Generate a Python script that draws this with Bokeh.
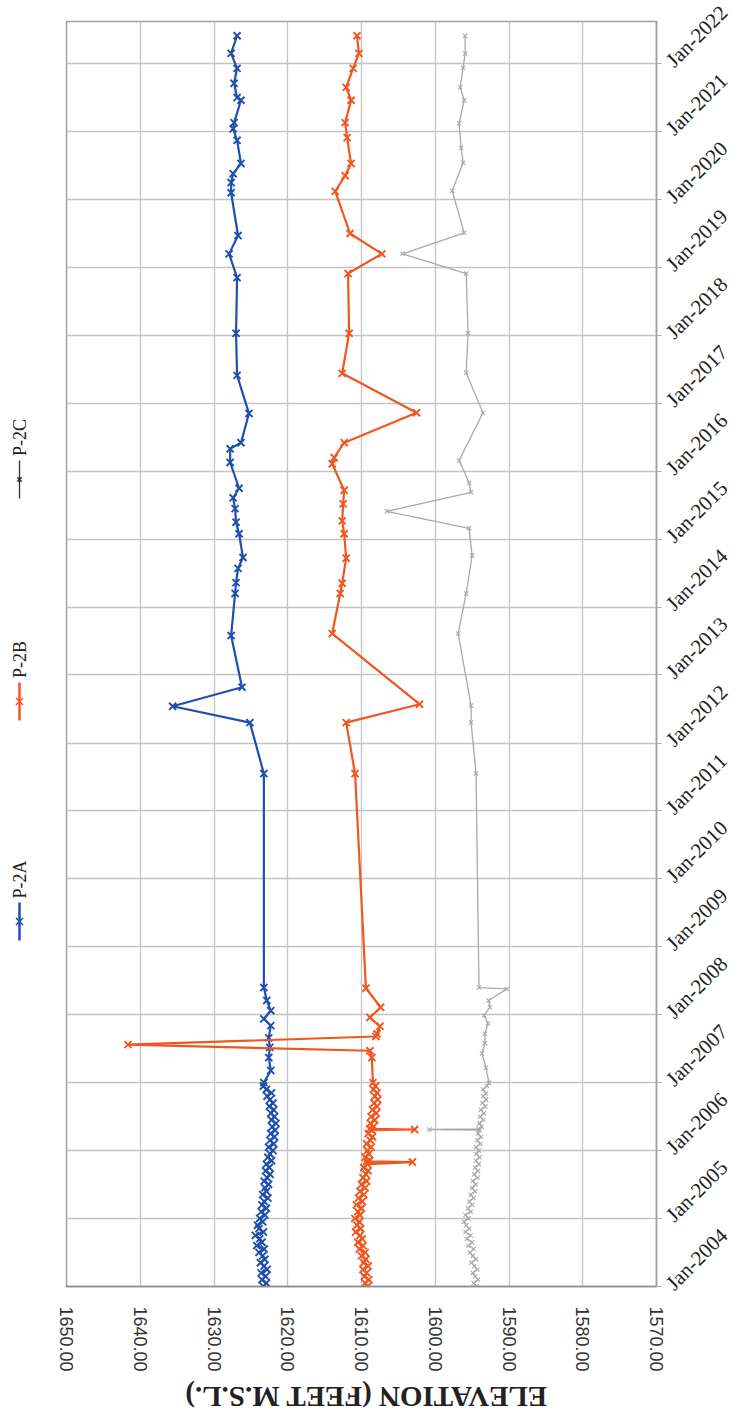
import math
from datetime import datetime
from bokeh.plotting import figure
from bokeh.models import Range1d, FixedTicker, DatetimeTickFormatter, NumeralTickFormatter
from bokeh.layouts import row, column
from bokeh.embed import file_html
from bokeh.resources import INLINE
from bokeh.core.properties import value

# ---------------- data (decimal years, elevation ft) ----------------
series_names = ["P-2A", "P-2B", "P-2C"]
series_colors = ["#1f4fae", "#f0561e", "#a9a9a9"]

p2a_years = [
    2004.00, 2004.05, 2004.10, 2004.15, 2004.20, 2004.25, 2004.30, 2004.35, 2004.40, 2004.45,
    2004.50, 2004.55, 2004.60, 2004.65, 2004.70, 2004.75, 2004.80, 2004.85, 2004.90, 2004.95,
    2005.00, 2005.05, 2005.10, 2005.15, 2005.20, 2005.25, 2005.30, 2005.35, 2005.40, 2005.45,
    2005.50, 2005.55, 2005.60, 2005.65, 2005.70, 2005.75, 2005.80, 2005.85, 2005.90, 2005.95,
    2006.00, 2006.05, 2006.10, 2006.15, 2006.20, 2006.25, 2006.30, 2006.35, 2006.40, 2006.45,
    2006.50, 2006.55, 2006.60, 2006.65, 2006.70, 2006.75, 2006.80, 2006.85, 2006.90, 2006.95,
    2007.00, 2007.18, 2007.37, 2007.52, 2007.66, 2007.84, 2007.94, 2008.06, 2008.21, 2008.40,
    2011.55, 2012.30, 2012.54, 2012.82, 2013.58, 2014.20, 2014.36, 2014.57, 2014.73, 2015.08,
    2015.25, 2015.45, 2015.61, 2015.75, 2016.13, 2016.33, 2016.42, 2016.85, 2017.41, 2018.03,
    2018.85, 2019.20, 2019.47, 2020.10, 2020.25, 2020.38, 2020.53, 2020.87, 2021.04, 2021.13,
    2021.46, 2021.50, 2021.71, 2021.93, 2022.15, 2022.41,
]
p2a_elev = [
    1623.3, 1622.9, 1623.5, 1623.0, 1623.6, 1622.8, 1623.2, 1623.7, 1623.1, 1623.4,
    1623.9, 1623.2, 1624.2, 1623.5, 1623.8, 1624.4, 1623.3, 1623.9, 1624.1, 1623.4,
    1623.8, 1623.1, 1623.6, 1622.9, 1623.5, 1623.2, 1622.7, 1623.4, 1622.9, 1623.1,
    1622.6, 1623.2, 1622.8, 1622.4, 1623.0, 1622.5, 1622.9, 1622.2, 1622.7, 1622.4,
    1622.0, 1622.6, 1621.9, 1622.4, 1621.8, 1622.3, 1621.7, 1622.1, 1621.6, 1622.2,
    1621.8, 1622.3, 1621.9, 1622.5, 1622.0, 1622.4, 1622.8, 1622.2, 1622.9, 1623.3,
    1623.24, 1622.30, 1622.57, 1622.44, 1622.57, 1622.30, 1623.24, 1622.30, 1622.84, 1623.24,
    1623.24, 1625.13, 1635.61, 1626.20, 1627.68, 1627.14, 1627.01, 1626.74, 1626.07, 1626.60,
    1627.01, 1627.14, 1627.41, 1626.60, 1627.81, 1627.81, 1626.34, 1625.26, 1626.87, 1627.01,
    1626.87, 1627.95, 1626.74, 1627.68, 1627.68, 1627.41, 1626.34, 1626.87, 1627.41, 1627.28,
    1626.34, 1626.87, 1627.28, 1626.87, 1627.68, 1626.87,
]

p2b_years = [
    2004.00, 2004.05, 2004.10, 2004.15, 2004.20, 2004.25, 2004.30, 2004.35, 2004.40, 2004.45,
    2004.50, 2004.55, 2004.60, 2004.65, 2004.70, 2004.75, 2004.80, 2004.85, 2004.90, 2004.95,
    2005.00, 2005.05, 2005.10, 2005.15, 2005.20, 2005.25, 2005.30, 2005.35, 2005.40, 2005.45,
    2005.50, 2005.55, 2005.60, 2005.65, 2005.70, 2005.75, 2005.80, 2005.83, 2005.84, 2005.85,
    2005.90, 2005.95, 2006.00, 2006.05, 2006.10, 2006.15, 2006.20, 2006.25, 2006.30, 2006.31,
    2006.32, 2006.35, 2006.40, 2006.45, 2006.50, 2006.55, 2006.60, 2006.65, 2006.70, 2006.75,
    2006.80, 2006.85, 2006.90, 2006.95,
    2007.00, 2007.37, 2007.47, 2007.56, 2007.68, 2007.72, 2007.83, 2007.96, 2008.11, 2008.39,
    2011.55, 2012.30, 2012.57, 2013.61, 2014.20, 2014.35, 2014.72, 2015.08, 2015.27, 2015.52,
    2015.72, 2016.11, 2016.20, 2016.42, 2016.86, 2017.44, 2018.03, 2018.91, 2019.20, 2019.50,
    2020.12, 2020.35, 2020.53, 2020.91, 2021.13, 2021.46, 2021.65, 2021.93, 2022.15, 2022.41,
]
p2b_elev = [
    1609.2, 1609.5, 1609.0, 1609.6, 1609.3, 1609.8, 1609.1, 1609.7, 1609.4, 1610.0,
    1609.5, 1610.3, 1609.8, 1610.5, 1609.9, 1610.2, 1610.8, 1610.1, 1610.6, 1610.3,
    1610.9, 1610.2, 1610.5, 1610.0, 1610.7, 1609.9, 1610.4, 1609.7, 1610.2, 1609.5,
    1610.0, 1609.3, 1609.8, 1609.4, 1609.1, 1609.7, 1609.2, 1603.1, 1609.3, 1608.9,
    1609.5, 1609.0, 1609.2, 1608.7, 1609.3, 1608.8, 1608.5, 1609.1, 1608.6, 1602.8,
    1608.9, 1608.4, 1608.8, 1608.2, 1608.7, 1608.0, 1608.5, 1607.9, 1608.3, 1607.8,
    1608.2, 1607.9, 1608.4, 1608.1,
    1608.45, 1608.60, 1608.86, 1641.66, 1608.05, 1607.90, 1607.50, 1608.86, 1607.40, 1609.40,
    1610.87, 1612.08, 1602.13, 1613.97, 1612.89, 1612.62, 1612.08, 1612.35, 1612.62, 1612.49,
    1612.35, 1613.97, 1613.70, 1612.35, 1602.54, 1612.62, 1611.68, 1611.82, 1607.24, 1611.55,
    1613.56, 1612.22, 1611.41, 1611.95, 1612.22, 1611.41, 1612.08, 1611.14, 1610.34, 1610.61,
]

p2c_years = [
    2004.00, 2004.05, 2004.10, 2004.15, 2004.20, 2004.25, 2004.30, 2004.35, 2004.40, 2004.45,
    2004.50, 2004.55, 2004.60, 2004.65, 2004.70, 2004.75, 2004.80, 2004.85, 2004.90, 2004.95,
    2005.00, 2005.05, 2005.10, 2005.15, 2005.20, 2005.25, 2005.30, 2005.35, 2005.40, 2005.45,
    2005.50, 2005.55, 2005.60, 2005.65, 2005.70, 2005.75, 2005.80, 2005.85, 2005.90, 2005.95,
    2006.00, 2006.05, 2006.10, 2006.15, 2006.20, 2006.25, 2006.30, 2006.31, 2006.32, 2006.35,
    2006.40, 2006.45, 2006.50, 2006.55, 2006.60, 2006.65, 2006.70, 2006.75, 2006.80, 2006.84,
    2006.90, 2006.95,
    2007.00, 2007.22, 2007.43, 2007.58, 2007.72, 2007.87, 2007.99, 2008.11, 2008.21, 2008.38, 2008.40,
    2011.55, 2012.30, 2012.55, 2013.61, 2014.20, 2014.76, 2015.16, 2015.41, 2015.69, 2015.83,
    2016.16, 2016.86, 2017.45, 2018.03, 2018.91, 2019.20, 2019.51, 2020.13, 2020.54, 2020.76,
    2021.12, 2021.46, 2021.65, 2021.94, 2022.15, 2022.41,
]
p2c_elev = [
    1594.4, 1594.8, 1594.2, 1594.6, 1594.9, 1594.3, 1594.7, 1595.1, 1594.5, 1594.9,
    1595.3, 1594.8, 1595.5, 1595.0, 1595.7, 1595.2, 1595.9, 1595.4, 1595.8, 1596.1,
    1595.5, 1595.9, 1595.2, 1595.6, 1595.0, 1595.4, 1594.8, 1595.2, 1594.6, 1595.0,
    1594.5, 1594.9, 1594.3, 1594.7, 1594.2, 1594.6, 1594.1, 1594.5, 1594.0, 1594.4,
    1594.1, 1594.5, 1593.9, 1594.3, 1593.8, 1594.2, 1594.0, 1600.8, 1594.1, 1593.7,
    1594.0, 1593.5, 1593.9, 1593.4, 1593.8, 1593.2, 1593.6, 1593.1, 1593.5, 1593.13,
    1593.5, 1593.0,
    1592.72, 1593.13, 1593.66, 1593.26, 1593.26, 1592.86, 1593.39, 1592.59, 1592.76, 1590.30, 1594.07,
    1594.47, 1595.14, 1595.14, 1596.89, 1595.81, 1595.00, 1595.41, 1606.57, 1595.14, 1595.41,
    1596.76, 1593.53, 1595.81, 1595.55, 1595.81, 1604.42, 1596.08, 1597.70, 1596.22, 1596.49,
    1596.76, 1596.08, 1596.62, 1596.22, 1595.95, 1595.95,
]

elev_ticks = [1650, 1640, 1630, 1620, 1610, 1600, 1590, 1580, 1570]
year_ticks = list(range(2004, 2023))
axis_title = "ELEVATION (FEET M.S.L.)"


def to_dt(y):
    yr = int(math.floor(y))
    a = datetime(yr, 1, 1)
    b = datetime(yr + 1, 1, 1)
    return a + (b - a) * (y - yr)


def to_ms(d):
    return (d - datetime(1970, 1, 1)).total_seconds() * 1000.0


# page layout (pixels)
PAGE_H = 1416
LEG_W = 50
FRAME_LEFT, FRAME_RIGHT = 66, 661
FRAME_TOP, FRAME_BOTTOM = 21, 1286
MAIN_H = 1380

# ---------------- main figure ----------------
p = figure(
    width=743 - LEG_W, height=MAIN_H,
    x_range=Range1d(1650, 1570),
    y_range=Range1d(to_dt(2004.0), to_dt(2022.62)),
    y_axis_type="datetime", y_axis_location="right",
    output_backend="svg", toolbar_location=None,
    min_border_left=FRAME_LEFT - LEG_W, min_border_right=743 - FRAME_RIGHT,
    min_border_top=FRAME_TOP, min_border_bottom=MAIN_H - FRAME_BOTTOM,
)
p.background_fill_color = "white"
p.border_fill_color = "white"
p.outline_line_color = "#a0a0a0"
p.outline_line_width = 1.5

# x (elevation) axis
p.xaxis.ticker = FixedTicker(ticks=elev_ticks)
p.xaxis.formatter = NumeralTickFormatter(format="0.00")
p.xaxis.major_label_orientation = "vertical"
p.xaxis.major_label_text_font = "Liberation Sans"
p.xaxis.major_label_text_font_size = "18px"
p.xaxis.major_label_text_color = "#333333"
p.xaxis.major_tick_out = 0
p.xaxis.major_tick_in = 0
p.xaxis.minor_tick_out = 0
p.xaxis.minor_tick_in = 0
p.xaxis.major_label_standoff = 20
p.xaxis.axis_line_color = "#8a8a8a"
p.xaxis.axis_line_width = 1.5

# y (date) axis
p.yaxis.ticker = FixedTicker(ticks=[to_ms(datetime(y, 1, 1)) for y in year_ticks])
fmt = "%b-%Y"
p.yaxis.formatter = DatetimeTickFormatter(
    years=fmt, months=fmt, days=fmt, hours=fmt, hourmin=fmt, minutes=fmt,
    minsec=fmt, seconds=fmt, milliseconds=fmt, microseconds=fmt)
p.yaxis.major_label_orientation = math.pi / 4
p.yaxis.major_label_text_font = "Liberation Serif"
p.yaxis.major_label_text_font_size = "21px"
p.yaxis.major_label_text_color = "#222222"
p.yaxis.major_tick_out = 5
p.yaxis.major_tick_in = 0
p.yaxis.minor_tick_out = 0
p.yaxis.minor_tick_in = 0
p.yaxis.major_tick_line_color = "#b0b0b0"
p.yaxis.major_label_standoff = 8
p.yaxis.axis_line_color = "#a0a0a0"
p.yaxis.axis_line_width = 1.5

p.xgrid.ticker = FixedTicker(ticks=elev_ticks)
p.grid.grid_line_color = "#c4c4c4"
p.grid.grid_line_width = 1.3

series = [
    (p2a_years, p2a_elev, 2.2, 10, 1.9),
    (p2b_years, p2b_elev, 2.2, 10, 1.9),
    (p2c_years, p2c_elev, 1.3, 6, 1.1),
]
for (yrs, vals, lw, msize, mlw), color in zip(series, series_colors):
    dts = [to_dt(v) for v in yrs]
    p.line(vals, dts, line_color=color, line_width=lw)
    p.scatter(vals, dts, marker="x", size=msize, line_color=color, line_width=mlw)

# ---------------- axis title strip (upside down, below) ----------------
# its frame is aligned with the main frame horizontally, so use page x coordinates
tf = figure(width=743 - LEG_W, height=PAGE_H - MAIN_H,
            x_range=Range1d(FRAME_LEFT, FRAME_RIGHT), y_range=Range1d(0, PAGE_H - MAIN_H),
            x_axis_location=None, y_axis_location=None,
            output_backend="svg", toolbar_location=None, min_border=0,
            min_border_left=FRAME_LEFT - LEG_W, min_border_right=743 - FRAME_RIGHT)
tf.grid.visible = False
tf.outline_line_color = None
tf.background_fill_color = "white"
tf.border_fill_color = "white"
tf.text(x=[368], y=[20], text=[axis_title], angle=math.pi, text_align="center",
        text_baseline="middle", text_font=value("Liberation Serif"), text_font_style="bold",
        text_font_size="29px", text_color="#222222")

# ---------------- legend strip (rotated, left side) ----------------
# its frame is aligned with the main frame vertically; y = PAGE_H - page_y
lg = figure(width=LEG_W, height=PAGE_H,
            x_range=Range1d(0, LEG_W), y_range=Range1d(PAGE_H - FRAME_BOTTOM, PAGE_H - FRAME_TOP),
            x_axis_location=None, y_axis_location=None,
            output_backend="svg", toolbar_location=None, min_border=0,
            min_border_top=FRAME_TOP, min_border_bottom=PAGE_H - FRAME_BOTTOM)
lg.grid.visible = False
lg.outline_line_color = None
lg.background_fill_color = "white"
lg.border_fill_color = "white"

legend_line_colors = ["#1f4fae", "#f0561e", "#333333"]
legend_line_widths = [2.5, 2.5, 1.3]
legend_marker_sizes = [10, 10, 6]
legend_mid = [PAGE_H - 921, PAGE_H - 701, PAGE_H - 479]
for name, c, lw, ms, ym in zip(series_names, legend_line_colors, legend_line_widths, legend_marker_sizes, legend_mid):
    lg.segment(x0=19, y0=ym - 19, x1=19, y1=ym + 19, line_color=c, line_width=lw)
    lg.scatter(x=[19], y=[ym], marker="x", size=ms, line_color=c, line_width=1.5)
    lg.text(x=[19], y=[ym + 42], text=[name], angle=math.pi / 2, text_align="center",
            text_baseline="middle", text_font=value("Liberation Serif"),
            text_font_size="18px", text_color="#222222")

layout = row(lg, column(p, tf))
open("out.html", "w").write(file_html(layout, INLINE))
